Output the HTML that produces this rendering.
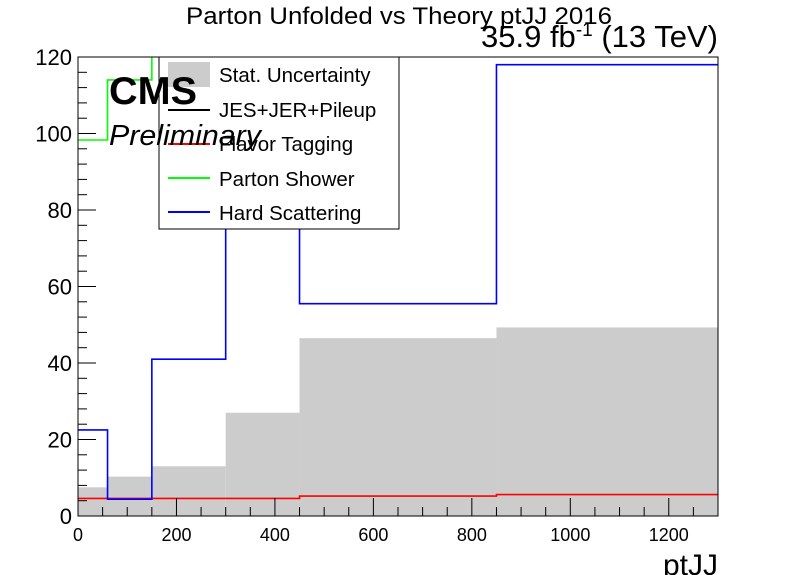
<!DOCTYPE html>
<html><head><meta charset="utf-8"><style>
body{margin:0;background:#fff}
svg{display:block;font-family:"Liberation Sans",sans-serif}
</style></head><body>
<svg id="c" width="798" height="575">
<g id="g"></g>
<g>
<rect x="159" y="57" width="240" height="172" fill="#fff" stroke="#000" stroke-width="1"/>
<rect x="168" y="62" width="42" height="25" fill="#cccccc"/>
<line x1="168" x2="210" y1="110" y2="110" stroke="#000" stroke-width="2"/>
<line x1="168" x2="210" y1="144" y2="144" stroke="#ff0000" stroke-width="2"/>
<line x1="168" x2="210" y1="178" y2="178" stroke="#00ff00" stroke-width="2"/>
<line x1="168" x2="210" y1="212" y2="212" stroke="#0000ff" stroke-width="2"/>
<g font-size="20.5">
<text x="219" y="82">Stat. Uncertainty</text>
<text x="219" y="117">JES+JER+Pileup</text>
<text x="219" y="151">Flavor Tagging</text>
<text x="219" y="186">Parton Shower</text>
<text x="219" y="220">Hard Scattering</text>
</g></g>
<text x="109" y="104" font-size="39" font-weight="bold" textLength="88" lengthAdjust="spacingAndGlyphs">CMS</text>
<text x="109" y="145" font-size="29" font-style="italic" textLength="152" lengthAdjust="spacingAndGlyphs">Preliminary</text>
<text x="186" y="24" font-size="24" textLength="426" lengthAdjust="spacingAndGlyphs">Parton Unfolded vs Theory ptJJ 2016</text>
<text x="481" y="47" font-size="31"><tspan>35.9 fb</tspan><tspan dy="-11" font-size="19">-1</tspan><tspan dy="11"> (13 TeV)</tspan></text>
<text x="718" y="575" font-size="30" text-anchor="end">ptJJ</text>
</svg>
<script>
const edges=[0,60,150,300,450,850,1300];
const statUnc=[7.5,10.3,13,27,46.5,49.3];
const flavor=[4.6,4.6,4.6,4.6,5.2,5.6];
const partonShower=[98.3,114,130,130,130,130];
const hardScatter=[22.5,4.4,41,130,55.5,118];
const xTicks=[0,200,400,600,800,1000,1200];
const yTicks=[0,20,40,60,80,100,120];
const X0=78,X1=718,Y0=516,Y1=57;
const sx=v=>X0+(v-0)/(1300)*(X1-X0);
const sy=v=>Y0-v/120*(Y0-Y1);
const NS="http://www.w3.org/2000/svg";
const g=document.getElementById('g');
function mk(t,a,p){const e=document.createElementNS(NS,t);for(const k in a)e.setAttribute(k,a[k]);(p||g).appendChild(e);return e;}
const clip=mk('clipPath',{id:'cp'});mk('rect',{x:X0,y:Y1,width:X1-X0,height:Y0-Y1},clip);
for(let i=0;i<statUnc.length;i++){
 const r=mk('rect',{x:sx(edges[i]),y:sy(statUnc[i]),width:sx(edges[i+1])-sx(edges[i]),height:Y0-sy(statUnc[i]),fill:'#cccccc'});
 
 
}
function step(vals,color,name){
 let d='';
 for(let i=0;i<vals.length;i++){
  d+=(i?'L':'M')+sx(edges[i])+','+sy(vals[i])+'L'+sx(edges[i+1])+','+sy(vals[i]);
 }
 const p=mk('path',{d:d,fill:'none',stroke:color,'stroke-width':1.6,'clip-path':'url(#cp)'});
 
 
}
step(flavor,'#ff0000','flavor-tagging-line');
step(partonShower,'#00ff00','parton-shower-line');
step(hardScatter,'#0000ff','hard-scattering-line');
const fr=mk('rect',{x:X0,y:Y1,width:X1-X0,height:Y0-Y1,fill:'none',stroke:'#000','stroke-width':1});


for(let v=0;v<=1300;v+=50){const maj=v%200===0;mk('line',{x1:sx(v),x2:sx(v),y1:Y0,y2:Y0-(maj?18:9),stroke:'#000'});}
for(let v=0;v<=120;v+=4){const maj=v%20===0;mk('line',{x1:X0,x2:X0+(maj?18:9),y1:sy(v),y2:sy(v),stroke:'#000'});}
xTicks.forEach(v=>{const t=mk('text',{x:sx(v),y:541,'font-size':18,'text-anchor':'middle'});t.textContent=v;
 
 });
yTicks.forEach(v=>{const t=mk('text',{x:72,y:sy(v)+8,'font-size':22,'text-anchor':'end'});t.textContent=v;
 
 });
</script>
</body></html>
